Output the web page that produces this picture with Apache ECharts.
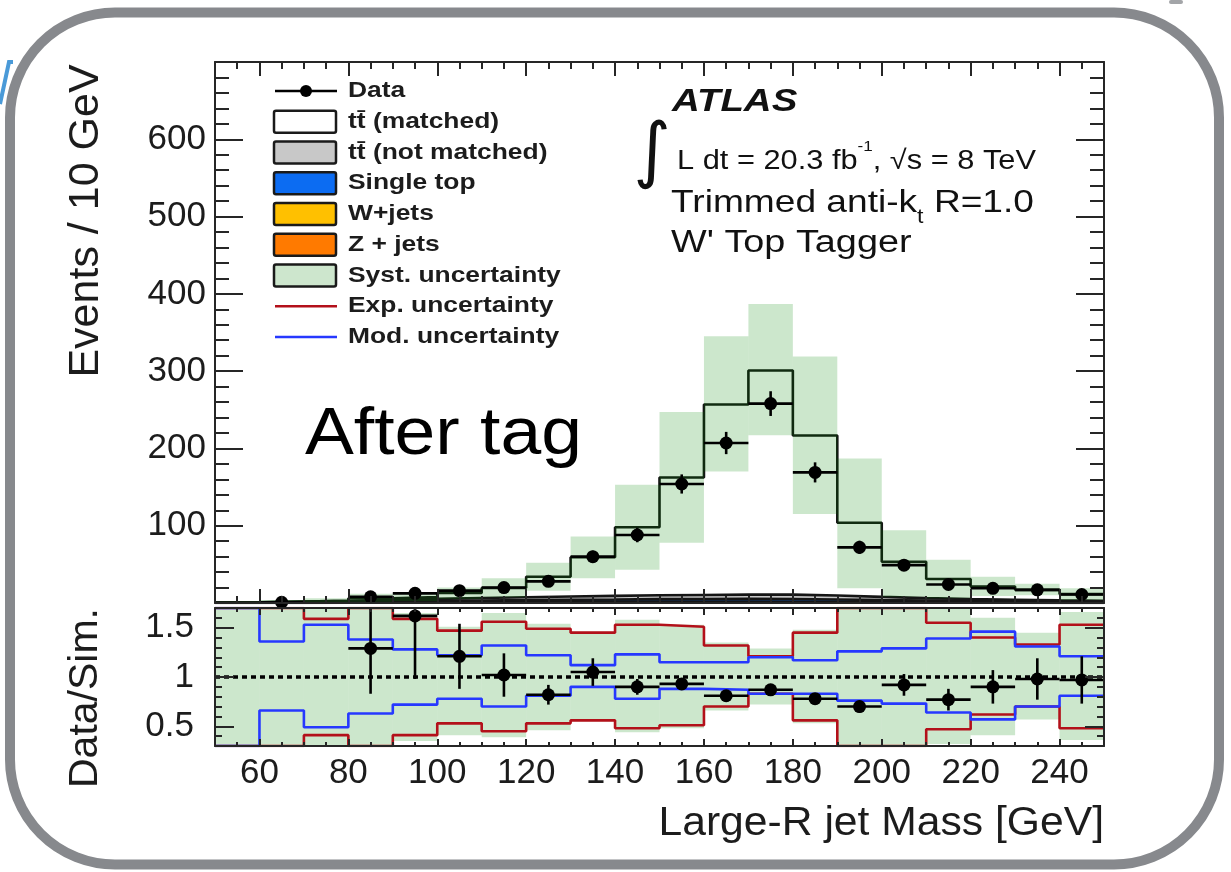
<!DOCTYPE html>
<html><head><meta charset="utf-8">
<script src="https://cdn.jsdelivr.net/npm/echarts@6/dist/echarts.min.js"></script>
<style>html,body{margin:0;padding:0;background:#fff}#c{width:1231px;height:872px}</style>
</head><body><div id="c"></div>
<script>
// ---------------- data ----------------
const binEdges = [50,60,70,80,90,100,110,120,130,140,150,160,170,180,190,200,210,220,230,240,250];
const xTickLabels = [60,80,100,120,140,160,180,200,220,240];
const yTickLabelsUpper = [100,200,300,400,500,600];
const yTickLabelsRatio = [0.5,1,1.5];

// stacked simulation (events / 10 GeV)
const zJets        = [0.1,0.2,0.3,0.4,0.4,0.5,0.5,0.6,0.6,0.6,0.6,0.6,0.5,0.5,0.4,0.4,0.3,0.3,0.2,0.2];
const wJets        = [0.2,0.4,0.6,0.8,1.0,1.1,1.2,1.3,1.3,1.4,1.4,1.3,1.2,1.1,1.0,0.9,0.8,0.7,0.6,0.5];
const singleTop    = [0.2,0.4,0.7,1.0,1.3,1.6,2.0,2.4,2.7,3.0,3.2,3.4,3.3,3.0,2.5,2.0,1.6,1.3,1.0,0.8];
const ttNotMatched = [0.3,0.8,1.2,2.0,2.6,3.2,3.8,4.2,4.6,5.0,5.2,5.6,5.8,5.2,4.0,3.0,2.4,2.0,1.7,1.4];
const ttMatched    = [0.2,0.2,0.2,2.0,2.4,6.6,12,25.5,50,88,152,246,290,207,96,47,26,17,13.5,8.6];

// systematic band (upper panel, absolute)
const systHi = [2,4,6,12,13,20,32,52,86,153,247,345,387,319,187,94,56,34,25,19];
const systLo = [0,0.5,1,1.5,2.7,5.3,7.6,16,32,43,78,170,217,115,19,8,6,9,10,4];

// data
const dataVals = [null,1,null,8,12.5,16,20,28,60,88,154,207,258,169,72,49,24,19,17,11];
const dataErr  = [null,1,null,2.8,3.5,4,4.5,5.3,7.7,9.4,12.4,14.4,16,13,8.5,7,4.9,4.4,4.1,3.3];

// ratio panel
const ratioVals = [null,null,null,1.29,1.62,1.21,1.02,0.82,1.05,0.90,0.93,0.81,0.87,0.78,0.70,0.92,0.77,0.90,0.98,0.97];
const ratioErr  = [null,null,null,0.46,0.64,0.33,0.22,0.10,0.14,0.08,0.06,0.05,0.05,0.05,0.06,0.11,0.11,0.17,0.21,0.24];
const ratioSystHi = [1.8,1.8,1.8,1.8,1.65,1.51,1.65,1.54,1.46,1.58,1.53,1.35,1.29,1.48,1.8,1.8,1.8,1.60,1.45,1.66];
const ratioSystLo = [0.2,0.2,0.2,0.2,0.35,0.41,0.39,0.46,0.55,0.44,0.48,0.66,0.72,0.53,0.2,0.2,0.32,0.41,0.57,0.36];
const expHi = [1.7,1.7,1.59,1.7,1.59,1.47,1.56,1.49,1.45,1.53,1.51,1.32,1.21,1.45,1.7,1.7,1.55,1.40,1.33,1.53];
const expLo = [0.3,0.3,0.41,0.3,0.41,0.53,0.45,0.53,0.56,0.48,0.51,0.70,0.83,0.56,0.3,0.3,0.47,0.62,0.70,0.48];
const modHi = [1.7,1.36,1.53,1.38,1.28,1.22,1.32,1.22,1.12,1.23,1.15,1.15,1.20,1.17,1.26,1.29,1.39,1.46,1.31,1.21];
const modLo = [0.3,0.66,0.49,0.63,0.72,0.78,0.70,0.81,0.90,0.78,0.88,0.87,0.83,0.83,0.76,0.73,0.64,0.57,0.70,0.81];

// ---------------- helpers ----------------
const FONT = '"Liberation Sans", Arial, Helvetica, sans-serif';
const AX = '#262626';
const TXT = '#1c1c1c';

function stepPts(vals){
  const pts=[];
  vals.forEach((v,i)=>{ if(v==null) return; pts.push([binEdges[i],v],[binEdges[i+1],v]); });
  return pts;
}
function rectSeries(name, xi, yi, lo, hi, color, z){
  return {
    type:'custom', name, xAxisIndex:xi, yAxisIndex:yi, z, silent:true,
    data: lo.map((l,i)=>[binEdges[i], binEdges[i+1], l, hi[i]]),
    encode:{x:[0,1], y:[2,3]},
    renderItem(params, api){
      const a = api.coord([api.value(0), api.value(3)]);
      const b = api.coord([api.value(1), api.value(2)]);
      const r = echarts.graphic.clipRectByRect({x:a[0], y:a[1], width:b[0]-a[0], height:b[1]-a[1]}, params.coordSys);
      if(!r) return null;
      return {type:'rect', shape:r, style:{fill:color}};
    }
  };
}
function lineSeries(name, xi, yi, vals, color, width, z){
  return {type:'line', name, xAxisIndex:xi, yAxisIndex:yi, z, silent:true, data:stepPts(vals),
    showSymbol:false, symbol:'none', lineStyle:{color, width}, clip:true};
}
function pointSeries(name, xi, yi, vals, errs, r, lw, z){
  const rows=[];
  vals.forEach((v,i)=>{ if(v==null) return; rows.push([(binEdges[i]+binEdges[i+1])/2, v, errs[i], binEdges[i], binEdges[i+1]]); });
  return {
    type:'custom', name, xAxisIndex:xi, yAxisIndex:yi, z, silent:true, data:rows,
    encode:{x:[0,3,4], y:[1]},
    renderItem(params, api){
      const cs = params.coordSys;
      const c = api.coord([api.value(0), api.value(1)]);
      const l = api.coord([api.value(3), api.value(1)]);
      const rr = api.coord([api.value(4), api.value(1)]);
      const t = api.coord([api.value(0), api.value(1)+api.value(2)]);
      const b = api.coord([api.value(0), api.value(1)-api.value(2)]);
      const y1 = Math.max(t[1], cs.y), y2 = Math.min(b[1], cs.y+cs.height);
      return {type:'group', children:[
        {type:'line', shape:{x1:l[0], y1:c[1], x2:rr[0], y2:c[1]}, style:{stroke:'#000', lineWidth:lw}},
        {type:'line', shape:{x1:c[0], y1:y1, x2:c[0], y2:y2}, style:{stroke:'#000', lineWidth:lw}},
        {type:'circle', shape:{cx:c[0], cy:c[1], r:r}, style:{fill:'#000'}}
      ]};
    }
  };
}

// stacking (built from the component arrays)
const stackDefs = [
  {name:'Z + jets', vals:zJets, color:'#ff7a00'},
  {name:'W+jets', vals:wJets, color:'#ffc000'},
  {name:'Single top', vals:singleTop, color:'#0c6cf2'},
  {name:'tt\u0304 (not matched)', vals:ttNotMatched, color:'#c8c8c8'},
  {name:'tt\u0304 (matched)', vals:ttMatched, color:'#ffffff'}
];
let cum = binEdges.slice(1).map(()=>0);
stackDefs.forEach(d=>{
  d.base = cum.slice();
  d.top = d.vals.map((v,i)=>cum[i]+v);
  cum = d.top.slice();
});

const series = [];
stackDefs.forEach(d=>series.push(rectSeries(d.name, 0, 0, d.base, d.top, d.color, 1)));
stackDefs.forEach(d=>series.push(lineSeries(d.name+' outline', 0, 0, d.top, '#151515', 2.6, 2)));
series.push(rectSeries('Syst. uncertainty', 0, 0, systLo, systHi, 'rgba(0,135,0,0.2)', 3));
series.push(pointSeries('Data', 0, 0, dataVals, dataErr, 6.5, 2.6, 5));
// ratio panel
series.push(rectSeries('Syst. uncertainty (ratio)', 4, 2, ratioSystLo, ratioSystHi, 'rgba(0,135,0,0.2)', 1));
series.push(lineSeries('Exp. uncertainty up', 4, 2, expHi, '#b3101a', 2.6, 2));
series.push(lineSeries('Exp. uncertainty down', 4, 2, expLo, '#b3101a', 2.6, 2));
series.push(lineSeries('Mod. uncertainty up', 4, 2, modHi, '#2638ff', 2.6, 3));
series.push(lineSeries('Mod. uncertainty down', 4, 2, modLo, '#2638ff', 2.6, 3));
series.push({type:'line', name:'unity', xAxisIndex:4, yAxisIndex:2, z:4, silent:true,
  data:[[binEdges[0],1],[binEdges[binEdges.length-1],1]], showSymbol:false, symbol:'none',
  lineStyle:{color:'#000', width:3.5, type:[5,4]}});
series.push(pointSeries('Data / Sim.', 4, 2, ratioVals, ratioErr, 6.5, 2.6, 5));

// ---------------- axes ----------------
const tickStyle = {color:AX, width:2};
function xAx(grid, pos, major, len, labels){
  const a = {type:'value', gridIndex:grid, position:pos, min:50, max:250, z:10,
    splitLine:{show:false},
    axisLine:{show:major, onZero:false, lineStyle:{color:AX, width:2}},
    axisTick:{show:true, inside:true, length:len, lineStyle:tickStyle},
    axisLabel:{show:false}};
  if(major) a.splitNumber = 10; else a.interval = 5;
  if(labels){
    a.axisLabel = {show:true, margin:10, fontSize:35, fontFamily:FONT, color:TXT,
      formatter:v=>xTickLabels.some(t=>Math.abs(t-v)<1e-6)?String(v):''};
  }
  return a;
}
function yUp(pos, labels){
  return {type:'value', gridIndex:0, position:pos, min:0, max:700, interval:100, z:10,
    splitLine:{show:false},
    axisLine:{show:true, onZero:false, lineStyle:{color:AX, width:2}},
    axisTick:{show:true, inside:true, length:28, lineStyle:tickStyle},
    minorTick:{show:true, splitNumber:5, length:14, lineStyle:tickStyle},
    axisLabel: labels ? {show:true, margin:9, fontSize:35, fontFamily:FONT, color:TXT,
      formatter:v=>yTickLabelsUpper.includes(v)?String(v):''} : {show:false}};
}
function yLo(pos, major, labels){
  const a = {type:'value', gridIndex:1, position:pos, min:0.3, max:1.7, z:10,
    splitLine:{show:false},
    axisLine:{show:major, onZero:false, lineStyle:{color:AX, width:2}},
    axisTick:{show:true, inside:true, length: major?19:7, lineStyle:tickStyle},
    axisLabel:{show:false}};
  if(major) a.splitNumber = 3; else a.interval = 0.1;
  if(labels){
    a.axisLabel = {show:true, margin:21, fontSize:35, fontFamily:FONT, color:TXT,
      formatter:v=>{const t=yTickLabelsRatio.find(t=>Math.abs(t-v)<1e-6); return t===undefined?'':String(t);}};
  }
  return a;
}

// ---------------- legend & annotations (graphic) ----------------
const legendRows = [
  {label:'Data', kind:'data'},
  {label:'tt\u0304 (matched)', kind:'box', fill:'#ffffff'},
  {label:'tt\u0304 (not matched)', kind:'box', fill:'#c8c8c8'},
  {label:'Single top', kind:'box', fill:'#0c6cf2'},
  {label:'W+jets', kind:'box', fill:'#ffc000'},
  {label:'Z + jets', kind:'box', fill:'#ff7a00'},
  {label:'Syst. uncertainty', kind:'box', fill:'#cde6cd'},
  {label:'Exp. uncertainty', kind:'line', color:'#b3101a'},
  {label:'Mod. uncertainty', kind:'line', color:'#2638ff'}
];
const graphic = [];
graphic.push({type:'rect', z:100, silent:true, shape:{x:10, y:12.5, width:1209, height:852, r:105},
  style:{fill:'none', stroke:'#87898d', lineWidth:10}});
graphic.push({type:'polyline', z:100, silent:true, shape:{points:[[0,104],[9,62],[13,62]]}, style:{stroke:'#4a9ad8', lineWidth:4, fill:'none'}});
graphic.push({type:'rect', z:100, silent:true, shape:{x:1169, y:0, width:14, height:4, r:2}, style:{fill:'#a3a5a8'}});
legendRows.forEach((r,i)=>{
  const y = 91 + 30.75*i;
  if(r.kind==='data'){
    graphic.push({type:'line', shape:{x1:275, y1:y, x2:337, y2:y}, style:{stroke:'#000', lineWidth:2.6}});
    graphic.push({type:'circle', shape:{cx:306, cy:y, r:6}, style:{fill:'#000'}});
  } else if(r.kind==='box'){
    graphic.push({type:'rect', shape:{x:274, y:y-11, width:62, height:22, r:2}, style:{fill:r.fill, stroke:'#1a1a1a', lineWidth:2.5}});
  } else {
    graphic.push({type:'line', shape:{x1:275, y1:y, x2:337, y2:y}, style:{stroke:r.color, lineWidth:2.6}});
  }
  graphic.push({type:'text', x:348, y:y, scaleX:1.2, style:{text:r.label, font:'bold 22px '+FONT, fill:TXT, align:'left', verticalAlign:'middle'}});
});
graphic.push({type:'text', x:672, y:102, scaleX:1.24, style:{text:'ATLAS', font:'italic bold 31px '+FONT, fill:'#111', align:'left', verticalAlign:'middle'}});
graphic.push({type:'text', x:652, y:155, style:{text:'\u222B', font:'72px "DejaVu Sans"', fill:'#111', align:'center', verticalAlign:'middle'}});
graphic.push({type:'text', x:677, y:157, scaleX:1.14, style:{
  text:'{m|L dt = 20.3 fb}{s|-1}{m|, \u221As = 8 TeV}',
  rich:{m:{fontSize:27, fontFamily:FONT, fill:'#111', lineHeight:36, verticalAlign:'bottom'},
        s:{fontSize:15, fontFamily:FONT, fill:'#111', lineHeight:36, verticalAlign:'top'}},
  align:'left', verticalAlign:'middle'}});
graphic.push({type:'text', x:671, y:207, scaleX:1.16, style:{
  text:'{m|Trimmed anti-k}{s|t}{m| R=1.0}',
  rich:{m:{fontSize:32, fontFamily:FONT, fill:'#111', lineHeight:40, verticalAlign:'top'},
        s:{fontSize:20, fontFamily:FONT, fill:'#111', lineHeight:24, verticalAlign:'bottom'}},
  align:'left', verticalAlign:'middle'}});
graphic.push({type:'text', x:671, y:243, scaleX:1.22, style:{text:"W' Top Tagger", font:'31px '+FONT, fill:'#111', align:'left', verticalAlign:'middle'}});
graphic.push({type:'text', x:305, y:403, scaleX:1.11, style:{text:'After tag', font:'66px '+FONT, fill:'#000', align:'left', verticalAlign:'top'}});
// axis titles
graphic.push({type:'text', x:86, y:221, rotation:Math.PI/2, style:{text:'Events / 10 GeV', font:'43px '+FONT, fill:TXT, align:'center', verticalAlign:'middle'}});
graphic.push({type:'text', x:86, y:698, rotation:Math.PI/2, style:{text:'Data/Sim.', font:'41px '+FONT, fill:TXT, align:'center', verticalAlign:'middle'}});
graphic.push({type:'text', x:1104, y:824, scaleX:1.04, style:{text:'Large-R jet Mass [GeV]', font:'41px '+FONT, fill:TXT, align:'right', verticalAlign:'middle'}});

const option = {
  animation:false,
  backgroundColor:'#ffffff',
  grid:[
    {left:215, top:62, width:889, height:541, containLabel:false},
    {left:215, top:608, width:889, height:138, containLabel:false}
  ],
  xAxis:[
    xAx(0,'bottom',true,14,false), xAx(0,'bottom',false,7,false),
    xAx(0,'top',true,14,false), xAx(0,'top',false,7,false),
    xAx(1,'bottom',true,7,true), xAx(1,'bottom',false,4,false),
    xAx(1,'top',true,7,false), xAx(1,'top',false,4,false)
  ],
  yAxis:[
    yUp('left',true), yUp('right',false),
    yLo('left',true,true), yLo('left',false,false),
    yLo('right',true,false), yLo('right',false,false)
  ],
  series,
  graphic
};
const chart = echarts.init(document.getElementById('c'));
chart.setOption(option);
</script>
</body></html>
